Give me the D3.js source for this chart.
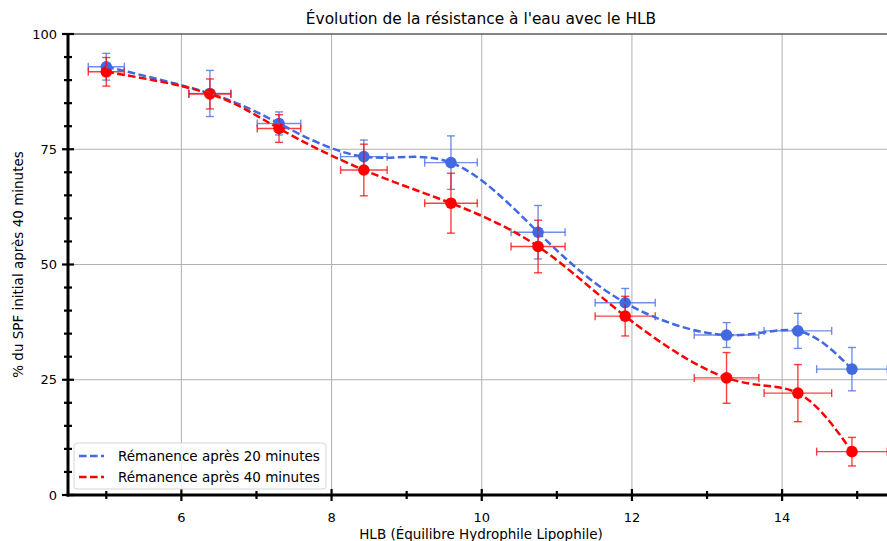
<!DOCTYPE html>
<html><head><meta charset="utf-8">
<script src="https://cdn.jsdelivr.net/npm/d3@7"></script>
<style>
html,body{margin:0;padding:0;background:#fff;}
svg{display:block;font-family:"DejaVu Sans",sans-serif;}
</style></head>
<body>
<svg id="chart" width="887" height="541"></svg>
<script>
// ---- data ----
const hlb      = [5.0, 6.38, 7.30, 8.43, 9.59, 10.75, 11.91, 13.26, 14.21, 14.93];
const hlbErr   = [0.24, 0.28, 0.29, 0.31, 0.35, 0.36, 0.40, 0.43, 0.45, 0.47];
const rem20    = [92.9, 87.1, 80.6, 73.4, 72.1, 57.0, 41.7, 34.7, 35.6, 27.3];
const rem20Err = [2.9, 5.0, 2.5, 3.6, 5.8, 5.8, 3.1, 2.7, 3.8, 4.7];
const rem40    = [91.8, 87.0, 79.5, 70.5, 63.3, 53.9, 38.8, 25.4, 22.1, 9.4];
const rem40Err = [3.1, 3.25, 3.0, 5.6, 6.5, 5.7, 4.3, 5.5, 6.2, 3.1];
const xMajorTicks = [6, 8, 10, 12, 14];
const xMinorTicks = [5, 7, 9, 11, 13, 15];
const yMajorTicks = [0, 25, 50, 75, 100];
const yMinorTicks = [5,10,15,20,30,35,40,45,55,60,65,70,80,85,90,95];
const seriesNames = ["Rémanence après 20 minutes", "Rémanence après 40 minutes"];
const seriesColors = ["#4169e1", "#ff0000"];
const titleText = "Évolution de la résistance à l'eau avec le HLB";
const xLabel = "HLB (Équilibre Hydrophile Lipophile)";
const yLabel = "% du SPF initial après 40 minutes";

// ---- layout ----
const pL = 68, pR = 894, pT = 34, pB = 495;
const svg = d3.select("#chart");
const x = d3.scaleLinear().domain([4.49, 15.49]).range([pL, pR]);
const y = d3.scaleLinear().domain([0, 100]).range([pB, pT]);

// grid
const grid = svg.append("g");
grid.selectAll(".gx").data(xMajorTicks).join("line")
  .attr("x1", d => x(d)).attr("x2", d => x(d)).attr("y1", pT).attr("y2", pB)
  .attr("stroke", "#b0b0b0").attr("stroke-width", 1);
grid.selectAll(".gy").data(yMajorTicks).join("line")
  .attr("y1", d => y(d)).attr("y2", d => y(d)).attr("x1", pL).attr("x2", pR)
  .attr("stroke", "#b0b0b0").attr("stroke-width", 1);

// top spine (thin)
svg.append("line").attr("x1", pL).attr("x2", pR).attr("y1", pT).attr("y2", pT)
  .attr("stroke", "#333").attr("stroke-width", 1);

const series = [
  {vals: rem20, errs: rem20Err, color: seriesColors[0], name: seriesNames[0]},
  {vals: rem40, errs: rem40Err, color: seriesColors[1], name: seriesNames[1]}
];
const cap = 4;
const plot = svg.append("g");
series.forEach(s => {
  const g = plot.append("g");
  const pts = hlb.map((h, i) => ({h, he: hlbErr[i], v: s.vals[i], ve: s.errs[i]}));
  const eb = g.selectAll("g.eb").data(pts).join("g")
    .attr("stroke", s.color).attr("stroke-opacity", 0.75).attr("stroke-width", 1.4);
  eb.append("line").attr("x1", d => x(d.h - d.he)).attr("x2", d => x(d.h + d.he))
    .attr("y1", d => y(d.v)).attr("y2", d => y(d.v));
  eb.append("line").attr("x1", d => x(d.h)).attr("x2", d => x(d.h))
    .attr("y1", d => y(d.v - d.ve)).attr("y2", d => y(d.v + d.ve));
  [-1, 1].forEach(sg => {
    eb.append("line").attr("x1", d => x(d.h + sg * d.he)).attr("x2", d => x(d.h + sg * d.he))
      .attr("y1", d => y(d.v) - cap).attr("y2", d => y(d.v) + cap);
    eb.append("line").attr("y1", d => y(d.v + sg * d.ve)).attr("y2", d => y(d.v + sg * d.ve))
      .attr("x1", d => x(d.h) - cap).attr("x2", d => x(d.h) + cap);
  });
  g.selectAll("circle").data(pts).join("circle")
    .attr("cx", d => x(d.h)).attr("cy", d => y(d.v)).attr("r", 5.8).attr("fill", s.color);
});
const line = d3.line().x((d, i) => x(hlb[i])).y(d => y(d)).curve(d3.curveNatural);
series.forEach(s => {
  plot.append("path").attr("d", line(s.vals)).attr("fill", "none")
    .attr("stroke", s.color).attr("stroke-width", 2.5).attr("stroke-dasharray", "7.6,3.4");
});

// axes spines
svg.append("line").attr("x1", pL).attr("x2", pL).attr("y1", pT - 1).attr("y2", pB + 1.5)
  .attr("stroke", "#000").attr("stroke-width", 3);
svg.append("line").attr("x1", pL - 1.5).attr("x2", pR).attr("y1", pB).attr("y2", pB)
  .attr("stroke", "#000").attr("stroke-width", 3);

// ticks
const tk = svg.append("g").attr("stroke", "#000").attr("stroke-width", 2.2);
tk.selectAll(".xM").data(xMajorTicks).join("line")
  .attr("x1", d => x(d)).attr("x2", d => x(d)).attr("y1", pB - 6).attr("y2", pB + 6);
tk.selectAll(".xm").data(xMinorTicks).join("line")
  .attr("x1", d => x(d)).attr("x2", d => x(d)).attr("y1", pB - 4).attr("y2", pB + 4);
tk.selectAll(".yM").data(yMajorTicks).join("line")
  .attr("y1", d => y(d)).attr("y2", d => y(d)).attr("x1", pL - 6).attr("x2", pL + 6);
tk.selectAll(".ym").data(yMinorTicks).join("line")
  .attr("y1", d => y(d)).attr("y2", d => y(d)).attr("x1", pL - 4).attr("x2", pL + 4);

const fsTick = 13, fsLab = 13.5;
svg.append("g").selectAll("text").data(xMajorTicks).join("text")
  .attr("x", d => x(d)).attr("y", pB + 27).attr("text-anchor", "middle")
  .attr("font-size", fsTick).attr("fill", "#000").text(d => d);
svg.append("g").selectAll("text").data(yMajorTicks).join("text")
  .attr("x", pL - 11).attr("y", d => y(d) + 4.7).attr("text-anchor", "end")
  .attr("font-size", fsTick).attr("fill", "#000").text(d => d);

svg.append("text").attr("x", (pL + pR) / 2).attr("y", 539).attr("text-anchor", "middle")
  .attr("font-size", fsLab).text(xLabel);
svg.append("text").attr("transform", `translate(23,${(pT + pB) / 2}) rotate(-90)`)
  .attr("text-anchor", "middle").attr("font-size", fsLab).text(yLabel);
svg.append("text").attr("x", (pL + pR) / 2).attr("y", 24).attr("text-anchor", "middle")
  .attr("font-size", 15.4).text(titleText);

// legend
const lg = svg.append("g");
lg.append("rect").attr("x", 74).attr("y", 443).attr("width", 252).attr("height", 46).attr("rx", 3)
  .attr("fill", "#fff").attr("fill-opacity", 0.8).attr("stroke", "#d5d5d5").attr("stroke-width", 1);
series.forEach((s, i) => {
  const yy = 456 + i * 21;
  lg.append("line").attr("x1", 79).attr("x2", 104).attr("y1", yy).attr("y2", yy)
    .attr("stroke", s.color).attr("stroke-width", 2.5).attr("stroke-dasharray", "7.6,3.4");
  lg.append("text").attr("x", 118).attr("y", yy + 4.8).attr("font-size", fsLab).text(s.name);
});
</script>
</body></html>
